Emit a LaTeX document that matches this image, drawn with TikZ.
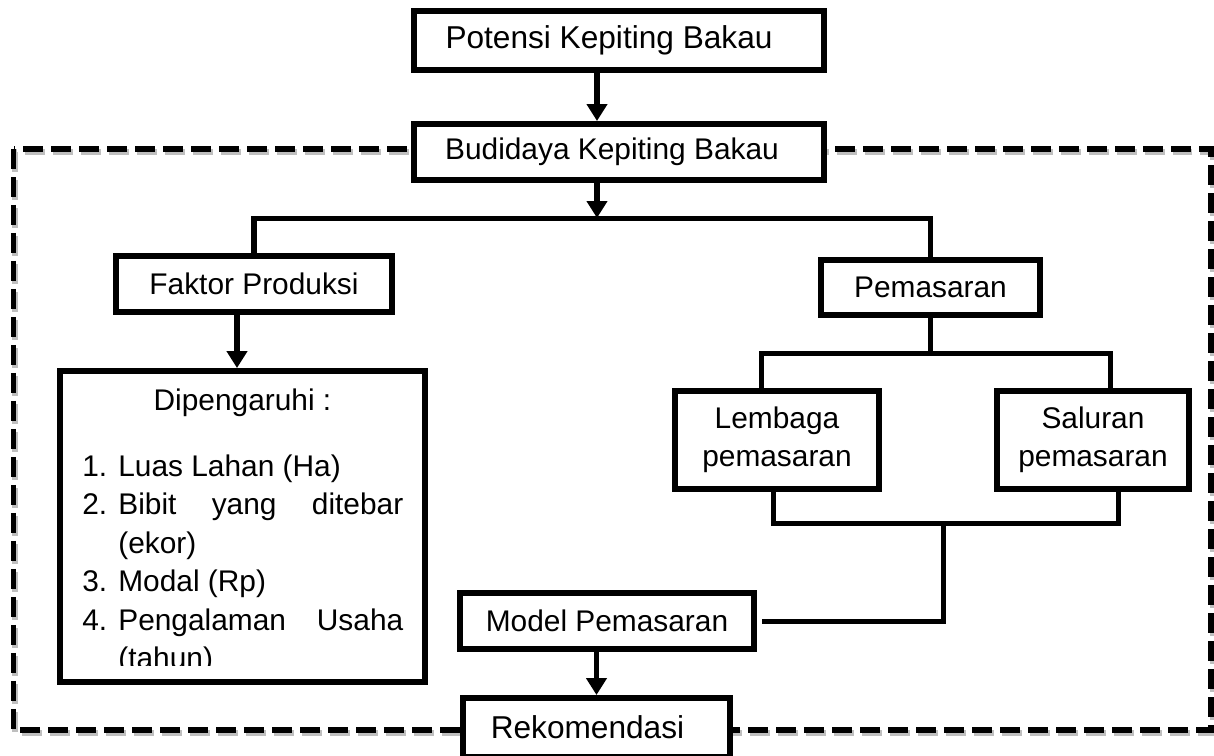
\documentclass[tikz,border=0pt]{standalone}
\usepackage{fontspec}
\setmainfont{Liberation Sans}
\usetikzlibrary{arrows.meta}
\tikzstyle{kotak} = [draw, fill=white, line width=3.4pt, inner sep=0pt, align=center, font=\fontsize{17}{21.5}\selectfont]
\tikzstyle{teks} = [inner sep=0pt, anchor=base west, font=\fontsize{17}{21.5}\selectfont]
\tikzstyle{garis} = [line width=2.85pt]
\tikzstyle{panah} = [line width=3.2pt,-{Triangle[length=0.34cm,width=0.4cm]}]
\tikzstyle{bingkai} = [line width=3.4pt, dash pattern=on 0.4cm off 0.16cm]

\begin{document}
\begin{tikzpicture}[x=0.02cm,y=-0.02cm]
\useasboundingbox (0,0) rectangle (1214,755);
\clip (0,0) rectangle (1214,755);

%dashed frame with its shadow
\draw[bingkai, draw=black!25, shift={(0.03cm,-0.06cm)}] (13.5,149) rectangle (1211,730);
\draw[bingkai] (13.5,149) rectangle (1211,730);

\node[kotak, minimum width=8.2cm, minimum height=1.18cm, font=\fontsize{18}{21.5}\selectfont] (potensi) at (619,40.5) {Potensi Kepiting Bakau\hspace*{0.4cm}};
\node[kotak, minimum width=8.2cm, minimum height=1.12cm] (budidaya) at (619,152) {Budidaya Kepiting Bakau\hspace*{0.28cm}};
\node[kotak, minimum width=5.52cm, minimum height=1.12cm] (faktor) at (254,284) {Faktor Produksi};
\node[kotak, minimum width=4.38cm, minimum height=1.10cm] (pemasaran) at (930.5,287.5) {Pemasaran};
\node[kotak, minimum width=4.08cm, minimum height=1.96cm] (lembaga) at (777,440) {Lembaga\\pemasaran};
\node[kotak, minimum width=3.84cm, minimum height=1.96cm] (saluran) at (1093,440) {Saluran\\pemasaran};
\node[kotak, minimum width=7.3cm, minimum height=6.22cm] (pengaruh) at (242.5,526.5) {};
\node[kotak, minimum width=5.88cm, minimum height=1.12cm] (model) at (607,621) {Model Pemasaran};
\node[kotak, minimum width=5.34cm, minimum height=1.18cm, font=\fontsize{18}{21.5}\selectfont] (rekomendasi) at (596.5,727.5) {Rekomendasi\hspace*{0.36cm}};

%text of the factor box, cut at the bottom
\begin{scope}
\clip (pengaruh.north west) rectangle ([yshift=0.38cm]pengaruh.south east);
\node[teks, anchor=base] (judul) at (242.5,410) {Dipengaruhi :};
\foreach \n/\y in {1/476,2/514.5,3/591.5,4/630}
{
\node[teks] (no\n) at (82,\y) {\n.};
}
\node[teks] (isi1) at (118,476) {Luas Lahan (Ha)};
\node[teks] (isi2) at (118,514.5) {\makebox[5.7cm][s]{Bibit yang ditebar}};
\node[teks] (isi2b) at (118,553) {(ekor)};
\node[teks] (isi3) at (118,591.5) {Modal (Rp)};
\node[teks] (isi4) at (118,630) {\makebox[5.7cm][s]{Pengalaman Usaha}};
\node[teks] (isi4b) at (118,668.5) {(tahun)};
\end{scope}

%junction points
\coordinate (cabang) at (597,218);
\coordinate (bagi) at (930.5,353);
\coordinate (bagiL) at (761,353);
\coordinate (bagiR) at (1110,353);
\coordinate (gabung) at (943,523);
\coordinate (gabungL) at (773,523);
\coordinate (gabungR) at (1118,523);

\draw[panah] (potensi.south -| cabang) -- (budidaya.north -| cabang);
\draw[panah] (budidaya.south -| cabang) -- (cabang);
\draw[garis] (faktor.north) |- (cabang) -| (pemasaran.north);
\draw[panah] ([xshift=-0.11cm]faktor.south -| pengaruh.north) -- ([xshift=-0.11cm]pengaruh.north);

\draw[garis] (pemasaran.south) -- (bagi);
\draw[garis] (lembaga.north -| bagiL) |- (bagiR) -- (saluran.north -| bagiR);
\draw[garis] (lembaga.south -| gabungL) |- (gabungR) -- (saluran.south -| gabungR);
\draw[garis] (gabung) |- ([xshift=0.1cm]model.east);
\draw[panah] (model.south -| rekomendasi.north) -- (rekomendasi.north);

\end{tikzpicture}
\end{document}
